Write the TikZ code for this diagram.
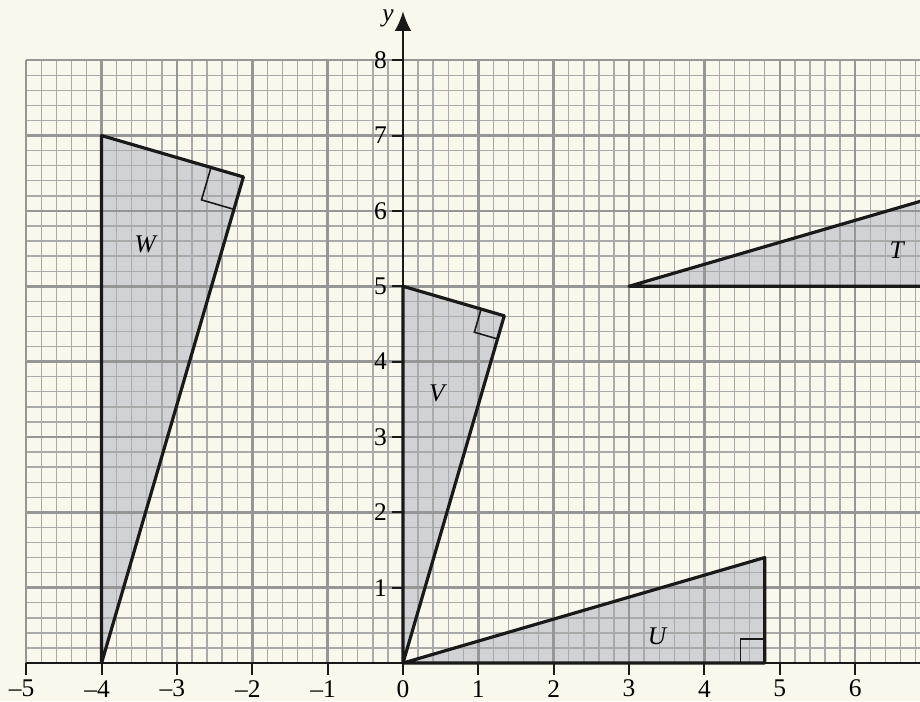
\documentclass[tikz,border=0pt]{standalone}
\usepackage{fontspec}
\setmainfont{Liberation Serif}
\usepackage{xcolor}
\usepackage{tikz}
\usetikzlibrary{arrows.meta}
\definecolor{papel}{RGB}{250,248,236}
\definecolor{cinzagrade}{RGB}{170,170,170}
\definecolor{cinzaforte}{RGB}{150,150,150}
\definecolor{cinzatri}{RGB}{209,210,214}
\tikzset{
  grademenor/.style={draw=cinzagrade,line width=0.5pt},
  grademaior/.style={draw=cinzaforte,line width=0.95pt},
  triangulo/.style={draw=black!90,line width=1.2pt,line join=round},
  preenche/.style={fill=cinzatri},
  angreto/.style={draw=black!90,line width=0.6pt},
  eixo/.style={draw=black!90,line width=0.8pt},
  numero/.style={font=\fontsize{9.6}{11}\selectfont,inner sep=0pt},
  rotulo/.style={font=\itshape\fontsize{9.6}{11}\selectfont,inner sep=0pt}
}

\begin{document}
\begin{tikzpicture}
\useasboundingbox[fill=papel] (-5.348,-0.504) rectangle (6.861,8.799);
\clip (-5.348,-0.504) rectangle (6.861,8.799);

\coordinate (ta) at (3,5);
\coordinate (tb) at (7.8,5);
\coordinate (tc) at (7.8,6.4);
\coordinate (ua) at (0,0);
\coordinate (ub) at (4.8,0);
\coordinate (uc) at (4.8,1.4);
\coordinate (va) at (0,0);
\coordinate (vb) at (0,5);
\coordinate (vc) at (1.344,4.608);
\coordinate (wa) at (-4,0);
\coordinate (wb) at (-4,7);
\coordinate (wc) at (-2.118,6.451);

\fill[preenche] (ta) -- (tb) -- (tc) -- cycle;
\fill[preenche] (ua) -- (ub) -- (uc) -- cycle;
\fill[preenche] (va) -- (vb) -- (vc) -- cycle;
\fill[preenche] (wa) -- (wb) -- (wc) -- cycle;

\draw[grademenor] (-5,0) grid[step=0.2] (6.861,8.001);
\draw[grademaior] (-5,0) grid[step=1] (6.861,8.001);

\draw[triangulo] (ta) -- (tb) -- (tc) -- cycle;
\draw[triangulo] (ua) -- (ub) -- (uc) -- cycle;
\draw[triangulo] (va) -- (vb) -- (vc) -- cycle;
\draw[triangulo] (wa) -- (wb) -- (wc) -- cycle;

\draw[angreto] (ub) ++(-0.32,0) -- ++(0,0.32) -- ++(0.32,0);
\draw[angreto] (vc) ++(-0.0896,-0.3072) -- ++(-0.3072,0.0896) -- ++(0.0896,0.3072);
\draw[angreto] (wc) ++(-0.1254,-0.4301) -- ++(-0.4301,0.1254) -- ++(0.1254,0.4301);

\node[rotulo] (lw) at (-3.42,5.56) {W};
\node[rotulo] (lv) at (0.45,3.58) {V};
\node[rotulo] (lu) at (3.37,0.35) {U};
\node[rotulo] (lt) at (6.55,5.48) {T};

\coordinate (xini) at (-5,0);
\coordinate (xfim) at (6.861,0);
\coordinate (ytopo) at (0,8.65);
\draw[eixo] (xini) -- (xfim);
\draw[eixo,-{Latex[length=2.6mm,width=2.2mm]}] (ua) -- (ytopo);
\node[rotulo] (ly) at (-0.2,8.55) {y};

\foreach \x in {-5,...,-1} {
  \draw[eixo] (\x,0) -- (\x,-0.16);
  \node[numero] (nx\x) at (\x-0.06,-0.34) {–\the\numexpr-\x\relax};
}
\foreach \x in {0,...,6} {
  \draw[eixo] (\x,0) -- (\x,-0.16);
  \node[numero] (nx\x) at (\x,-0.34) {\x};
}
\foreach \y in {1,...,8} {
  \draw[eixo] (0,\y) -- (-0.14,\y);
  \node[numero] (ny\y) at (-0.3,\y) {\y};
}
\end{tikzpicture}
\end{document}
